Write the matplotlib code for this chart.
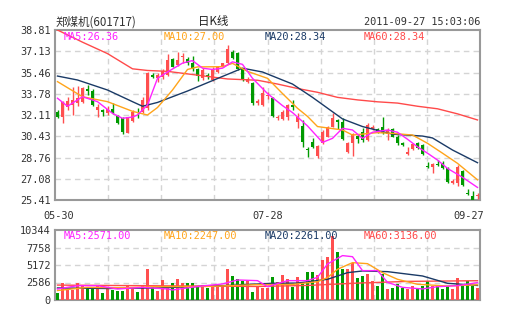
import matplotlib
matplotlib.use('Agg')
import matplotlib.pyplot as plt

# daily candles 2011-05-30 .. 2011-09-27 (85 trading days)
opens = [32.37, 31.98, 32.71, 32.90, 33.03, 33.16, 34.16, 34.03, 32.50, 32.50,
         32.24, 32.56, 32.03, 31.85, 30.72, 31.66, 32.37, 32.37, 32.63, 35.26,
         35.05, 35.08, 35.26, 36.50, 36.05, 36.66, 36.50, 36.18, 35.71, 35.00,
         35.26, 34.87, 35.53, 35.97, 36.18, 37.10, 36.97, 35.71, 34.74, 34.61,
         33.08, 32.90, 33.60, 33.42, 31.90, 31.77, 31.93, 32.90, 31.58, 31.24,
         29.43, 30.01, 28.88, 29.88, 30.40, 31.19, 31.72, 31.58, 29.22, 29.93,
         30.45, 30.80, 30.14, 30.98, 30.98, 31.19, 30.61, 30.98, 30.40, 29.88,
         29.04, 29.40, 29.93, 29.75, 28.09, 27.98, 28.22, 28.35, 27.90, 26.72,
         26.72, 27.72, 25.99, 25.75, 25.73]
highs = [32.50, 33.20, 33.56, 34.34, 34.40, 34.34, 34.47, 34.13, 32.98, 32.58,
         32.80, 33.03, 32.11, 31.93, 31.95, 32.50, 32.63, 33.56, 35.52, 35.45,
         35.45, 35.71, 36.92, 36.58, 37.10, 37.02, 36.66, 36.76, 35.79, 35.79,
         35.39, 35.87, 35.97, 36.24, 37.63, 37.23, 37.10, 35.79, 35.13, 34.74,
         33.34, 34.29, 33.90, 33.55, 32.11, 32.50, 32.98, 33.29, 32.24, 31.72,
         29.61, 30.27, 29.75, 30.93, 31.24, 32.24, 31.77, 31.85, 29.98, 30.66,
         30.61, 31.06, 31.45, 31.32, 31.06, 31.93, 31.06, 31.06, 30.53, 30.01,
         29.61, 29.93, 30.01, 29.82, 28.43, 28.30, 28.56, 28.51, 27.98, 27.03,
         28.17, 27.77, 26.25, 26.14, 25.99]
lows = [31.85, 31.45, 32.50, 32.11, 32.82, 33.08, 33.69, 32.82, 31.98, 32.06,
        32.11, 32.19, 31.40, 30.61, 30.66, 31.58, 31.85, 32.24, 32.50, 35.00,
        34.74, 34.92, 35.18, 35.87, 35.97, 36.18, 36.05, 35.60, 34.82, 34.87,
        34.92, 34.82, 35.45, 35.87, 36.13, 36.50, 35.66, 34.82, 34.61, 32.90,
        32.90, 32.82, 33.40, 31.93, 31.72, 31.72, 31.72, 32.50, 31.06, 29.56,
        28.83, 29.48, 28.75, 29.82, 30.35, 31.14, 30.98, 30.14, 29.14, 28.88,
        29.88, 30.01, 30.08, 30.93, 30.66, 30.61, 30.14, 30.35, 29.75, 29.67,
        28.96, 29.35, 29.40, 28.96, 27.96, 27.51, 28.09, 27.82, 26.77, 26.67,
        26.51, 26.54, 25.80, 25.41, 25.46]
closes = [31.93, 33.16, 33.24, 33.29, 33.42, 34.21, 34.03, 32.90, 32.74, 32.37,
          32.62, 32.24, 31.51, 30.80, 31.93, 32.37, 32.24, 33.29, 35.39, 35.13,
          35.26, 35.60, 36.45, 35.92, 36.45, 36.76, 36.18, 35.71, 35.18, 35.66,
          35.08, 35.71, 35.87, 36.18, 37.29, 36.58, 35.71, 34.87, 34.92, 33.08,
          33.24, 33.82, 33.68, 32.03, 31.98, 32.37, 32.90, 32.71, 31.93, 30.01,
          29.35, 29.56, 29.67, 30.80, 31.14, 31.85, 31.58, 30.19, 29.88, 30.61,
          30.19, 30.14, 31.32, 31.19, 30.88, 30.66, 30.93, 30.40, 29.88, 29.75,
          29.22, 29.82, 29.48, 29.04, 28.01, 28.22, 28.14, 27.90, 26.85, 26.93,
          27.98, 26.59, 25.91, 25.41, 25.78]
volumes = [990, 2470, 1480, 1480, 2470, 2270, 1730, 1730, 2070, 990,
           1730, 1480, 1330, 1330, 2070, 1600, 1180, 2070, 4540, 1900,
           1330, 2910, 2070, 2470, 3060, 2470, 2470, 2470, 2070, 2270,
           1730, 2270, 2270, 2070, 4540, 3550, 3060, 2810, 2810, 1180,
           1970, 1830, 1830, 3460, 2660, 3650, 3160, 1970, 3460, 2320,
           4140, 4140, 3650, 5870, 6360, 9460, 7090, 4640, 4540, 5520,
           3310, 3550, 3800, 2810, 2070, 3800, 1580, 1830, 2320, 1830,
           1580, 2070, 1830, 2070, 2810, 2070, 2070, 1580, 2070, 1580,
           3310, 2320, 2810, 2070, 1830]

# moving averages (day index, value)
ma5_idx = [0, 2, 5, 8, 11, 13, 15, 16, 18, 20, 22, 25, 27, 29, 31, 33, 35, 37, 39, 42,
           45, 47, 50, 53, 55, 57, 59, 61, 63, 66, 68, 70, 72, 74, 76, 78, 81, 84]
ma5_val = [33.43, 32.80, 33.55, 33.16, 32.24, 31.85, 31.95, 32.11, 32.90, 35.00, 35.50,
           36.20, 36.40, 35.80, 35.70, 35.80, 36.30, 36.10, 35.00, 33.80, 32.85, 32.30,
           31.25, 29.95, 30.27, 31.06, 30.93, 30.27, 30.75, 30.93, 30.75, 30.20, 29.60,
           29.10, 28.56, 27.90, 27.20, 26.40]
ma10_idx = [0, 5, 10, 15, 18, 20, 23, 26, 28, 33, 35, 38, 42, 45, 48, 50, 52, 57, 59,
            64, 67, 71, 74, 77, 80, 84]
ma10_val = [34.74, 33.55, 33.16, 32.40, 32.11, 32.70, 34.08, 35.70, 35.90, 35.92, 36.18,
            35.55, 35.00, 33.80, 32.64, 32.00, 31.20, 30.93, 30.53, 30.72, 30.66, 30.53,
            29.88, 29.10, 28.30, 27.00]
ma20_idx = [0, 4, 10, 15, 17, 20, 26, 33, 37, 41, 47, 51, 57, 61, 67, 73, 75, 79, 84]
ma20_val = [35.18, 34.87, 34.08, 33.16, 32.80, 33.10, 34.00, 35.15, 35.80, 35.50, 34.55,
            33.50, 31.80, 31.20, 30.60, 30.45, 30.30, 29.35, 28.35]
ma60_idx = [0, 5, 10, 15, 18, 22, 26, 30, 34, 40, 44, 48, 52, 56, 60, 64, 68, 72, 76, 80, 84]
ma60_val = [38.81, 37.85, 36.95, 35.75, 35.62, 35.55, 35.35, 35.15, 34.95, 34.85, 34.55,
            34.20, 33.90, 33.50, 33.30, 33.15, 33.05, 32.80, 32.60, 32.20, 31.72]

vma5_idx = [0, 4, 8, 12, 17, 22, 23, 28, 33, 36, 40, 42, 46, 50, 52, 54, 57, 59, 61,
            64, 66, 69, 73, 76, 80, 84]
vma5_val = [1630, 2120, 2120, 1630, 1870, 1630, 1480, 2000, 2370, 2960, 2860, 1970, 2860,
            2860, 3350, 5320, 6560, 6400, 4340, 4340, 2610, 1870, 1630, 1970, 2120, 2570]
vma10_idx = [0, 6, 13, 20, 30, 40, 47, 52, 54, 56, 59, 62, 65, 68, 72, 78, 84]
vma10_val = [1400, 1870, 1800, 1970, 2000, 2270, 2300, 2700, 3310, 4540, 5520, 5370,
             4040, 3060, 2320, 2070, 2250]
vma20_idx = [0, 10, 20, 33, 43, 48, 54, 58, 61, 66, 73, 78, 84]
vma20_val = [1780, 1700, 1780, 2120, 2470, 2500, 3060, 4040, 4290, 4190, 3550, 2470, 2150]
vma60_idx = [0, 20, 40, 50, 60, 70, 84]
vma60_val = [2200, 2100, 2000, 2150, 2500, 2750, 2850]

price_ticks = [25.41, 27.08, 28.76, 30.43, 32.11, 33.78, 35.46, 37.13, 38.81]
vol_ticks = [0, 2586, 5172, 7758, 10344]

RED = '#FF4F4F'
GREEN = '#009A00'
C_MA5 = '#FF22FF'
C_MA10 = '#FFA41A'
C_MA20 = '#1A3A66'
C_MA60 = '#FF4A4A'
FRAME = '#999999'
GRIDC = '#D4D4D4'

W, H = 505, 330
fig = plt.figure(figsize=(W / 100, H / 100), dpi=100)
fig.patch.set_facecolor('white')


def px_axes(l, t, r, b):
    return fig.add_axes([l / W, 1 - b / H, (r - l) / W, (b - t) / H])


ax = px_axes(55, 30, 480, 200)
axv = px_axes(55, 230, 480, 300)

n = len(closes)
xs = list(range(n))
cols = [RED if c >= o else GREEN for o, c in zip(opens, closes)]

# candles
for i in xs:
    ax.vlines(i, lows[i], highs[i], color=cols[i], linewidth=1, zorder=3)
    bot = min(opens[i], closes[i])
    h = max(abs(closes[i] - opens[i]), 0.06)
    ax.bar(i, h, bottom=bot, width=0.78, color=cols[i], linewidth=0, zorder=4)

ax.plot(ma60_idx, ma60_val, color=C_MA60, lw=1, zorder=5)
ax.plot(ma20_idx, ma20_val, color=C_MA20, lw=1, zorder=5)
ax.plot(ma10_idx, ma10_val, color=C_MA10, lw=1, zorder=5)
ax.plot(ma5_idx, ma5_val, color=C_MA5, lw=1, zorder=5)

# volume
axv.bar(xs, volumes, width=0.78, color=cols, linewidth=0, zorder=3)
axv.plot(vma60_idx, vma60_val, color=C_MA60, lw=1, zorder=5)
axv.plot(vma20_idx, vma20_val, color=C_MA20, lw=1, zorder=5)
axv.plot(vma10_idx, vma10_val, color=C_MA10, lw=1, zorder=5)
axv.plot(vma5_idx, vma5_val, color=C_MA5, lw=1, zorder=5)

vgrid = [-0.5 + 10.625 * k for k in range(1, 8)]
for a, ylim, yt in [(ax, (25.41, 38.81), price_ticks), (axv, (0, 10344), vol_ticks)]:
    a.set_xlim(-0.5, n - 0.5)
    a.set_ylim(*ylim)
    a.set_yticks(yt)
    a.set_xticks([])
    for g in vgrid:
        a.axvline(g, color=GRIDC, lw=1, ls=(0, (4, 3)), zorder=1)
    for y in yt[1:-1]:
        a.axhline(y, color=GRIDC, lw=1, ls=(0, (4, 3)), zorder=1)
    for s in a.spines.values():
        s.set_color(FRAME)
        s.set_linewidth(1.5)
    a.tick_params(axis='y', length=0, pad=3, labelsize=7.4, labelcolor='#333333')
    for lab in a.get_yticklabels():
        lab.set_family('DejaVu Sans Mono')

ax.set_yticklabels([f'{v:.2f}' for v in price_ticks])
axv.set_yticklabels([str(v) for v in vol_ticks])

mono = 'DejaVu Sans Mono'
cjk = ['Noto Sans CJK SC', 'DejaVu Sans']


def ftext(x, y, s, **kw):
    fig.text(x / W, 1 - y / H, s, va='center', **kw)


ftext(55, 22, '郑煤机(601717)', family=cjk, fontsize=8.3, color='#333333')
ftext(213, 22, '日K线', family=cjk, fontsize=8.3, color='#222222', ha='center')
ftext(480, 22, '2011-09-27 15:03:06', family=mono, fontsize=7.4, color='#333333', ha='right')

for x0, s, c in [(64, 'MA5:26.36', C_MA5), (164, 'MA10:27.00', C_MA10),
                 (265, 'MA20:28.34', C_MA20), (364, 'MA60:28.34', C_MA60)]:
    ftext(x0, 37, s, family=mono, fontsize=7.4, color=c)
for x0, s, c in [(64, 'MA5:2571.00', C_MA5), (164, 'MA10:2247.00', C_MA10),
                 (265, 'MA20:2261.00', C_MA20), (364, 'MA60:3136.00', C_MA60)]:
    ftext(x0, 236, s, family=mono, fontsize=7.4, color=c)

ftext(59, 216, '05-30', family=mono, fontsize=7.4, color='#333333', ha='center')
ftext(268, 216, '07-28', family=mono, fontsize=7.4, color='#333333', ha='center')
ftext(484, 216, '09-27', family=mono, fontsize=7.4, color='#333333', ha='right')

plt.savefig('out.png', dpi=100, facecolor='white')
